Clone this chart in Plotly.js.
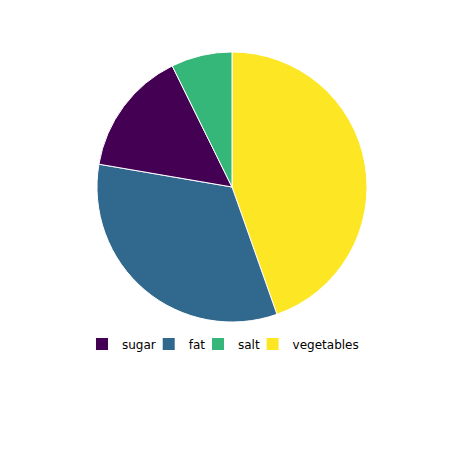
<!DOCTYPE html>
<html>
<head>
<meta charset="utf-8">
<script src="https://cdn.plot.ly/plotly-3.0.1.min.js"></script>
<style>html,body{margin:0;padding:0;background:#fff}#chart{width:464px;height:464px}</style>
</head>
<body>
<div id="chart"></div>
<script>
// Data (legend order)
const categories = ["sugar", "fat", "salt", "vegetables"];
const values = [15.0, 33.1, 7.3, 44.6];
const colors = ["#440154", "#31688e", "#35b779", "#fde725"];

// Drawing order around the pie (clockwise from 12 o'clock)
const drawOrder = ["vegetables", "fat", "sugar", "salt"];
const drawValues = drawOrder.map(c => values[categories.indexOf(c)]);
const drawColors = drawOrder.map(c => colors[categories.indexOf(c)]);

// Legend entry positions (paper fraction), one legend per category
const legendX = [0.1767, 0.3205, 0.4267, 0.5444];
const legendNames = ["legend", "legend2", "legend3", "legend4"];

// Small legend-only pies, hidden under the main pie
const legendTraces = categories.map((c, i) => ({
  type: "pie",
  labels: [c],
  values: [values[i]],
  sort: false,
  marker: {colors: [colors[i]], line: {color: "#ffffff", width: 0}},
  textinfo: "none",
  hoverinfo: "skip",
  showlegend: true,
  legend: legendNames[i],
  domain: {x: [0.495, 0.505], y: [0.59, 0.6]}
}));

const pieTrace = {
  type: "pie",
  labels: drawOrder,
  values: drawValues,
  sort: false,
  direction: "clockwise",
  rotation: 0,
  marker: {colors: drawColors, line: {color: "#ffffff", width: 1}},
  textinfo: "none",
  hoverinfo: "label+percent",
  showlegend: false,
  domain: {x: [0, 1], y: [0.306, 0.888]}
};

const layout = {
  width: 464,
  height: 464,
  margin: {l: 0, r: 0, t: 0, b: 0},
  paper_bgcolor: "#ffffff",
  showlegend: true
};
legendNames.forEach((name, i) => {
  layout[name] = {
    orientation: "h",
    x: legendX[i], xanchor: "left",
    y: 0.2586, yanchor: "middle",
    bgcolor: "rgba(0,0,0,0)",
    font: {family: "DejaVu Sans", size: 12, color: "#000000"},
    itemwidth: 30
  };
});

Plotly.newPlot("chart", legendTraces.concat([pieTrace]), layout, {displayModeBar: false, staticPlot: true});
</script>
</body>
</html>
